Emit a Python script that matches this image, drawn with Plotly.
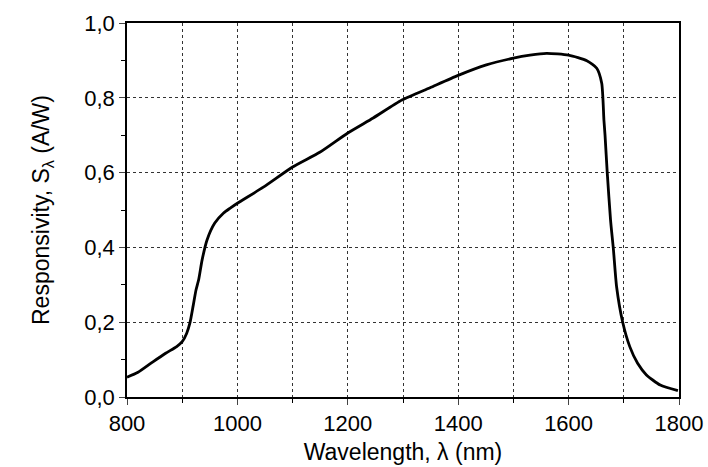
import plotly.graph_objects as go

wavelength = [800, 820, 847, 870, 890, 900, 908, 914, 920, 925, 930, 936, 945, 959, 975, 987, 1000,
              1047, 1100, 1150, 1200, 1246, 1298, 1349, 1400, 1451, 1500, 1530, 1560, 1600, 1633,
              1651, 1660, 1664, 1666, 1670, 1676, 1681, 1687, 1698, 1711, 1725, 1741, 1766, 1798]
responsivity = [0.053, 0.066, 0.094, 0.117, 0.135, 0.148, 0.170, 0.198, 0.245, 0.286, 0.315, 0.366, 0.420,
                0.465, 0.492, 0.505, 0.518,
                0.561, 0.615, 0.655, 0.706, 0.746, 0.794, 0.827, 0.860, 0.888, 0.906, 0.914, 0.919, 0.914, 0.899,
                0.879, 0.839, 0.74, 0.70, 0.60, 0.473, 0.398, 0.294, 0.20, 0.134, 0.090, 0.059, 0.032, 0.017]

FONT = "Liberation Sans, Arial, sans-serif"

fig = go.Figure()
fig.add_trace(go.Scatter(x=wavelength, y=responsivity, mode="lines",
                         line=dict(color="black", width=2.8, shape="spline", smoothing=0.6),
                         showlegend=False))

fig.update_layout(
    width=708, height=467,
    margin=dict(l=127, r=29, t=23, b=70),
    plot_bgcolor="white", paper_bgcolor="white",
    separators=",.",
    font=dict(family=FONT, size=20, color="black"),
)
fig.update_xaxes(
    range=[800, 1800], tick0=800, dtick=200, ticks="outside", ticklen=6, tickwidth=1.2,
    showline=True, linecolor="black", linewidth=1.5, mirror=True,
    showgrid=True, gridcolor="#333", griddash="dot", gridwidth=1,
    minor=dict(dtick=100, tick0=800, ticks="outside", ticklen=4, tickcolor="black",
               showgrid=True, gridcolor="#333", griddash="dot", gridwidth=1),
    zeroline=False, automargin=False,
    title=dict(text="Wavelength, λ (nm)", standoff=9, font=dict(family=FONT, size=23)),
    tickfont=dict(family=FONT, size=22),
)
fig.update_yaxes(
    range=[0, 1.0], tick0=0, dtick=0.2, tickformat=".1f", ticks="outside", ticklen=6, tickwidth=1.2,
    showline=True, linecolor="black", linewidth=1.5, mirror=True,
    showgrid=True, gridcolor="#333", griddash="dot", gridwidth=1,
    minor=dict(dtick=0.1, ticks="outside", ticklen=4, tickcolor="black", showgrid=False),
    zeroline=False, automargin=False,
    title=dict(text="Responsivity, S<sub>λ</sub> (A/W)", standoff=28, font=dict(family=FONT, size=23)),
    tickfont=dict(family=FONT, size=22),
)

fig.write_html("out.html")
